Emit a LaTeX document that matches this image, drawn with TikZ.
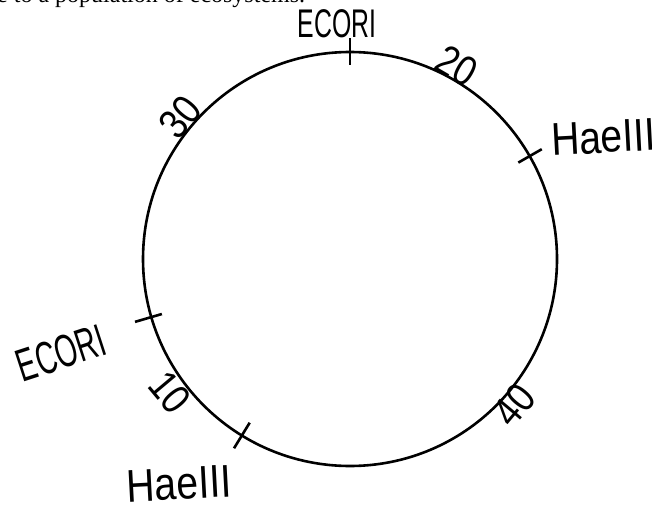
\documentclass[tikz,border=0pt]{standalone}
\usepackage{fontspec}
\setmainfont{Liberation Serif}
\newfontfamily\hand[FakeStretch=0.62]{Liberation Sans}
\newfontfamily\handwide[FakeStretch=0.85]{Liberation Sans}
\usepackage{tikz}
\usetikzlibrary{calc}

\begin{document}
\begin{tikzpicture}[x=1pt, y=1pt, inner sep=0pt, ring/.style={draw, circle, minimum size=414pt, line width=2.6pt}, tick/.style={line width=2.6pt}, site/.style={font=\hand\fontsize{40}{40}\selectfont}, enzyme/.style={font=\handwide\fontsize{46}{46}\selectfont}, kb/.style={font=\handwide\fontsize{42}{42}\selectfont}]
\useasboundingbox (0,0) rectangle (652,504);
\clip (0,0) rectangle (652,504);
\coordinate (c) at (350,245);
\node[ring] (plasmid) at (c) {};
% cut sites
\draw[tick] ([shift={(c)}]90:194) -- ([shift={(c)}]90:221);
\draw[tick] ([shift={(c)}]29.8:194) -- ([shift={(c)}]29.8:221);
\draw[tick] ([shift={(c)}]196.3:196) -- ([shift={(c)}]196.3:224);
\draw[tick] ([shift={(c)}]238.5:192) -- ([shift={(c)}]238.5:222);
% labels
\node[site] (ecoTop) at (337,480) {ECORI};
\node[enzyme, anchor=west, rotate=3] (haeRight) at (551,364) {HaeIII};
\node[site, font=\hand\fontsize{46}{46}\selectfont, rotate=18] (ecoLeft) at (61,151) {ECORI};
\node[enzyme, rotate=3] (haeBottom) at (179,20) {HaeIII};
\node[kb, rotate=-30] (kbTwenty) at (457,438) {20};
\node[kb, rotate=50] (kbThirty) at (180,387) {30};
\node[kb, rotate=-50] (kbTen) at (170,112) {10};
\node[kb, rotate=50] (kbForty) at (514,99) {40};
% cut-off line of the page above
\node[anchor=base west, font=\fontsize{24}{24}\selectfont] (pageLine) at (-3,501) {e to a population of ecosystems.};
\end{tikzpicture}
\end{document}
